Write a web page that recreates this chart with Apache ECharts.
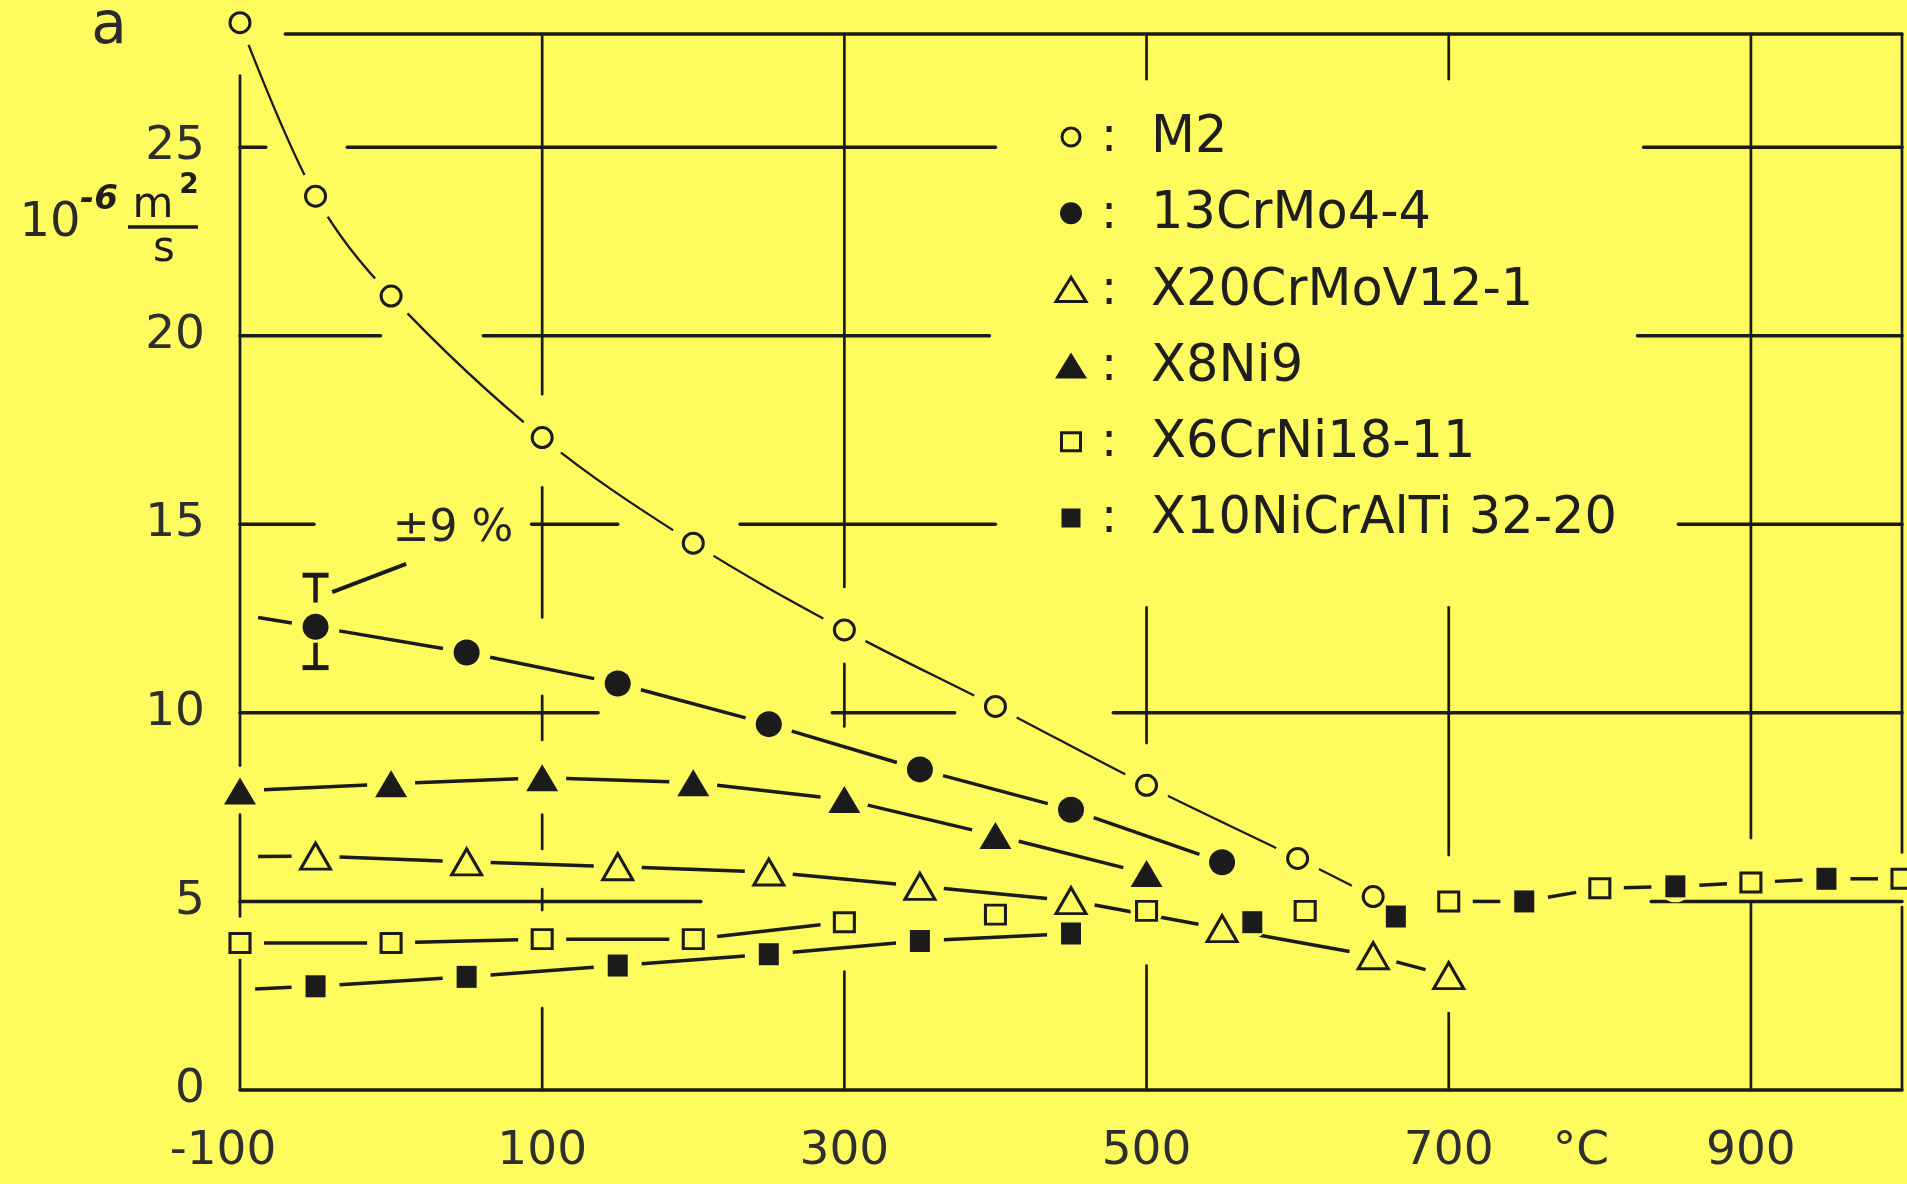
<!DOCTYPE html>
<html>
<head>
<meta charset="utf-8">
<script src="https://cdn.jsdelivr.net/npm/echarts@6/dist/echarts.min.js"></script>
<style>
html,body{margin:0;padding:0;background:#fdfb5e;}
#c{width:1907px;height:1184px;}
</style>
</head>
<body>
<div id="c"></div>
<script>
// ---------------- data ----------------
const seriesNames = ['M2', '13CrMo4-4', 'X20CrMoV12-1', 'X8Ni9', 'X6CrNi18-11', 'X10NiCrAlTi 32-20'];

// temperature (°C), thermal diffusivity a (10^-6 m²/s)
const m2    = [[-100, 28.3], [-50, 23.7], [0, 21.05], [100, 17.3], [200, 14.5], [300, 12.2], [400, 10.17], [500, 8.08], [600, 6.14], [650, 5.13]];
const crMo  = [[-50, 12.28], [50, 11.6], [150, 10.78], [250, 9.7], [350, 8.5], [450, 7.43], [550, 6.04]];
const x20   = [[-50, 6.2], [50, 6.05], [150, 5.92], [250, 5.78], [350, 5.4], [450, 5.02], [550, 4.28], [650, 3.56], [700, 3.03]];
const x8ni9 = [[-100, 7.93], [0, 8.12], [100, 8.28], [200, 8.15], [300, 7.7], [400, 6.75], [500, 5.74]];
const x6    = [[-100, 3.9], [0, 3.9], [100, 4.0], [200, 4.0], [300, 4.45], [400, 4.65], [500, 4.75], [605, 4.75], [700, 5.0], [800, 5.35], [900, 5.5], [1000, 5.6]];
const x10   = [[-50, 2.75], [50, 3.0], [150, 3.3], [250, 3.6], [350, 3.95], [450, 4.15], [570, 4.45], [665, 4.6], [750, 5.0], [850, 5.4], [950, 5.6]];

// start of the drawn curves left of the first measured point
const crMoLeadIn = [-88, 12.53];
const x20LeadIn  = [-88, 6.19];
const x10LeadIn  = [-90, 2.68];

// ±9 % scatter band on the first 13CrMo4-4 point
const errorBar = [[-50, 11.2, 13.65]];
const errorText = '±9 %';
const errorTextPos = [41, 14.85];
const errorLeader = [[-39, 13.2, 10, 13.95]];

// axis ticks
const xTickValues = [-100, 100, 300, 500, 700, 900];
const xUnitAt = 800;
const xUnitText = '°C';
const yTickValues = [0, 5, 10, 15, 20, 25];

// the broken (hand drawn) grid of the original, in data units
const gridH = [ // [y, xFrom, xTo]
  [28, -70, 1000],
  [25, -100, -83], [25, -29, 400], [25, 829, 1000],
  [20, -100, -7], [20, 61, 396], [20, 825, 1000],
  [15, -100, -51], [15, 93, 150], [15, 231, 400], [15, 852, 1000],
  [10, -100, 137], [10, 292, 373], [10, 478, 1000],
  [5, -100, 205], [5, 834, 1000],
  [0, -100, 1000]
];
const gridV = [ // [x, yFrom, yTo]
  [-100, 0, 3.6], [-100, 4.6, 7.3], [-100, 8.6, 26.9],
  [100, 18.45, 28], [100, 12.53, 15.98], [100, 9.28, 10.45], [100, 6.39, 7.3], [100, 4.77, 5.33], [100, 0, 2.17],
  [300, 13.34, 28], [300, 9.64, 11.3], [300, 0, 3.14],
  [500, 26.8, 28], [500, 9.2, 12.8], [500, 0, 3.3],
  [700, 26.8, 28], [700, 6.23, 12.8], [700, 0, 2.04],
  [900, 6.68, 28], [900, 0, 4.98],
  [1000, 6.3, 28], [1000, 0, 4.85]
];

// ---------------- styling ----------------
const BG = '#fdfb5e';
const INK = '#1b1b1b';
const LABEL = '#2e2e2e';
const FONT = '"DejaVu Sans", "Noto Sans", sans-serif';
const GAP = 24;        // gap (px) left between a marker and its own line
const SMALL_HALO = 16; // clearance round every marker for other lines

const markerDefs = [
  { pts: m2,    symbol: 'circle',   size: 20,       filled: false },
  { pts: crMo,  symbol: 'circle',   size: 26,       filled: true  },
  { pts: x20,   symbol: 'triangle', size: [30, 26], filled: false },
  { pts: x8ni9, symbol: 'triangle', size: [32, 27], filled: true  },
  { pts: x6,    symbol: 'rect',     size: [20, 19], filled: false },
  { pts: x10,   symbol: 'rect',     size: [20, 22], filled: true  }
];

// polylines of straight segments
const straightDefs = [
  { pts: [crMoLeadIn].concat(crMo), leadIn: true },
  { pts: [x20LeadIn].concat(x20), leadIn: true },
  { pts: x8ni9, leadIn: false },
  { pts: x6.filter(p => p[0] <= 300), leadIn: false },
  { pts: [x10LeadIn].concat(x10.filter(p => p[0] <= 450)), leadIn: true },
  { pts: x6.concat(x10).filter(p => p[0] >= 700).sort((a, b) => a[0] - b[0]), leadIn: false }
];
const segData = [];
straightDefs.forEach(function (d) {
  for (let i = 0; i < d.pts.length - 1; i++) {
    const a = d.pts[i], b = d.pts[i + 1];
    segData.push([a[0], a[1], b[0], b[1], (d.leadIn && i === 0) ? 0 : 1, 1]);
  }
});

const gridData = gridH.map(s => [s[1], s[0], s[2], s[0], 0])
  .concat(gridV.map(s => [s[0], s[1], s[0], s[2], 1]));

const allPoints = [].concat(m2, crMo, x20, x8ni9, x6, x10);

function haloSeries(data, r, z) {
  return {
    type: 'custom', silent: true, z: z, clip: false, data: data,
    renderItem: function (params, api) {
      const p = api.coord([api.value(0), api.value(1)]);
      return { type: 'circle', shape: { cx: p[0], cy: p[1], r: r }, style: { fill: BG, lineWidth: 0 } };
    }
  };
}

const series = [];

// grid
series.push({
  type: 'custom', silent: true, z: 1, clip: false,
  data: gridData,
  renderItem: function (params, api) {
    const p1 = api.coord([api.value(0), api.value(1)]);
    const p2 = api.coord([api.value(2), api.value(3)]);
    const vertical = api.value(4) === 1;
    return { type: 'line', shape: { x1: p1[0], y1: p1[1], x2: p2[0], y2: p2[1] },
             style: { stroke: INK, lineWidth: vertical ? 2.7 : 3.5, lineCap: 'round' } };
  }
});

// M2: smooth curve
series.push({
  type: 'line', silent: true, z: 2, clip: false,
  data: m2, smooth: 0.35, symbol: 'none', showSymbol: false,
  lineStyle: { color: INK, width: 2.3 }
});

// other curves: straight segments, opened up round their own markers
series.push({
  type: 'custom', silent: true, z: 2, clip: false,
  data: segData,
  renderItem: function (params, api) {
    const a = api.coord([api.value(0), api.value(1)]);
    const b = api.coord([api.value(2), api.value(3)]);
    const dx = b[0] - a[0], dy = b[1] - a[1], L = Math.sqrt(dx * dx + dy * dy);
    const t0 = api.value(4) * GAP / L, t1 = api.value(5) * GAP / L;
    return { type: 'line',
             shape: { x1: a[0] + dx * t0, y1: a[1] + dy * t0, x2: b[0] - dx * t1, y2: b[1] - dy * t1 },
             style: { stroke: INK, lineWidth: 3.5, lineCap: 'butt' } };
  }
});

// error bar
series.push({
  type: 'custom', silent: true, z: 2, clip: false,
  data: errorBar,
  renderItem: function (params, api) {
    const x = api.value(0);
    const pLo = api.coord([x, api.value(1)]);
    const pHi = api.coord([x, api.value(2)]);
    const cap = 13;
    return { type: 'group', children: [
      { type: 'line', shape: { x1: pLo[0], y1: pLo[1], x2: pHi[0], y2: pHi[1] }, style: { stroke: INK, lineWidth: 4.5 } },
      { type: 'line', shape: { x1: pLo[0] - cap, y1: pLo[1], x2: pLo[0] + cap, y2: pLo[1] }, style: { stroke: INK, lineWidth: 5 } },
      { type: 'line', shape: { x1: pHi[0] - cap, y1: pHi[1], x2: pHi[0] + cap, y2: pHi[1] }, style: { stroke: INK, lineWidth: 5 } }
    ] };
  }
});

// clearances
series.push(haloSeries(m2, GAP, 3));
series.push(haloSeries(errorBar.map(e => [e[0], (e[1] + e[2]) / 2]), 19, 3));
series.push(haloSeries(allPoints, SMALL_HALO, 3));

// markers
markerDefs.forEach(function (d, i) {
  series.push({
    name: seriesNames[i],
    type: 'scatter', silent: true, z: 4, clip: false,
    data: d.pts, symbol: d.symbol, symbolSize: d.size,
    itemStyle: d.filled ? { color: INK, opacity: 1 }
                        : { color: BG, borderColor: INK, borderWidth: 3, opacity: 1 }
  });
});

// ±9 % annotation
series.push({
  type: 'custom', silent: true, z: 5, clip: false,
  data: errorLeader,
  renderItem: function (params, api) {
    const p1 = api.coord([api.value(0), api.value(1)]);
    const p2 = api.coord([api.value(2), api.value(3)]);
    const pt = api.coord(errorTextPos);
    return { type: 'group', children: [
      { type: 'line', shape: { x1: p1[0], y1: p1[1], x2: p2[0], y2: p2[1] }, style: { stroke: INK, lineWidth: 4 } },
      { type: 'text', x: pt[0], y: pt[1],
        style: { text: errorText, fill: '#262626', font: '44px ' + FONT, align: 'center', verticalAlign: 'middle' } }
    ] };
  }
});

// ---------------- legend (drawn as in the original: symbol  :  name) ----------------
const legendSym = [
  { w: 21, h: 21 }, { w: 22, h: 22 }, { w: 30, h: 24 }, { w: 32, h: 26 }, { w: 19, h: 18 }, { w: 19, h: 19 }
];
const legendEls = [];
seriesNames.forEach(function (name, i) {
  const cy = 137 + i * 76.2, cx = 1071;
  const d = markerDefs[i], s = legendSym[i];
  const style = d.filled ? { fill: INK } : { fill: BG, stroke: INK, lineWidth: 3 };
  let el;
  if (d.symbol === 'circle') {
    el = { type: 'circle', shape: { cx: cx, cy: cy, r: s.w / 2 - (d.filled ? 0 : 1.5) }, style: style };
  } else if (d.symbol === 'triangle') {
    el = { type: 'polygon', shape: { points: [[cx, cy - s.h / 2], [cx + s.w / 2, cy + s.h / 2], [cx - s.w / 2, cy + s.h / 2]] }, style: style };
  } else {
    el = { type: 'rect', shape: { x: cx - s.w / 2, y: cy - s.h / 2, width: s.w, height: s.h }, style: style };
  }
  legendEls.push(el);
  legendEls.push({ type: 'text', x: 1109, y: cy + 2, style: { text: ':', fill: '#1e1e1e', font: '48px ' + FONT, align: 'center', verticalAlign: 'middle' } });
  legendEls.push({ type: 'text', x: 1151, y: cy + 2, style: { text: name, fill: '#1e1e1e', font: '51px ' + FONT, align: 'left', verticalAlign: 'middle' } });
});

// axis name block:  a   and   10^-6 m²/s
const axisNameEls = [
  { type: 'text', x: 109, y: 28, style: { text: 'a', fill: '#2a2a2a', font: '58px ' + FONT, align: 'center', verticalAlign: 'middle' } },
  { type: 'text', x: 50, y: 224, style: { text: '10', fill: '#2a2a2a', font: '48px ' + FONT, align: 'center', verticalAlign: 'middle' } },
  { type: 'text', x: 99, y: 200, style: { text: '-6', fill: '#1e1e1e', font: 'italic bold 34px ' + FONT, align: 'center', verticalAlign: 'middle' } },
  { type: 'text', x: 153, y: 206, style: { text: 'm', fill: '#1e1e1e', font: '42px ' + FONT, align: 'center', verticalAlign: 'middle' } },
  { type: 'text', x: 189, y: 186, style: { text: '2', fill: '#1e1e1e', font: 'bold 28px ' + FONT, align: 'center', verticalAlign: 'middle' } },
  { type: 'line', shape: { x1: 128, y1: 227, x2: 198, y2: 227 }, style: { stroke: INK, lineWidth: 3.5 } },
  { type: 'text', x: 164, y: 250, style: { text: 's', fill: '#1e1e1e', font: '42px ' + FONT, align: 'center', verticalAlign: 'middle' } }
];

const option = {
  backgroundColor: BG,
  animation: false,
  textStyle: { fontFamily: FONT },
  grid: { left: 240, right: 5, top: 34, bottom: 94 },
  xAxis: {
    type: 'value', min: -100, max: 1000, interval: 100,
    axisLine: { show: false }, axisTick: { show: false }, splitLine: { show: false },
    axisLabel: {
      margin: 38, fontSize: 47, color: LABEL, fontFamily: FONT,
      formatter: function (v) {
        if (v === xUnitAt) return '{u|' + xUnitText + '}';
        if (xTickValues.indexOf(v) < 0) return '';
        return v < 0 ? '{n|' + v + '}' : String(v);
      },
      rich: {
        u: { fontSize: 47, color: LABEL, fontFamily: FONT, padding: [0, 38, 0, 0] },
        n: { fontSize: 47, color: LABEL, fontFamily: FONT, padding: [0, 34, 0, 0] }
      }
    }
  },
  yAxis: {
    type: 'value', min: 0, max: 28, interval: 5,
    axisLine: { show: false }, axisTick: { show: false }, splitLine: { show: false },
    axisLabel: {
      margin: 35, fontSize: 47, color: LABEL, fontFamily: FONT,
      formatter: function (v) { return yTickValues.indexOf(v) >= 0 ? String(v) : ''; }
    }
  },
  graphic: [{ type: 'group', silent: true, children: legendEls.concat(axisNameEls) }],
  series: series
};

const chart = echarts.init(document.getElementById('c'), null, { renderer: 'canvas' });
chart.setOption(option);
</script>
</body>
</html>
